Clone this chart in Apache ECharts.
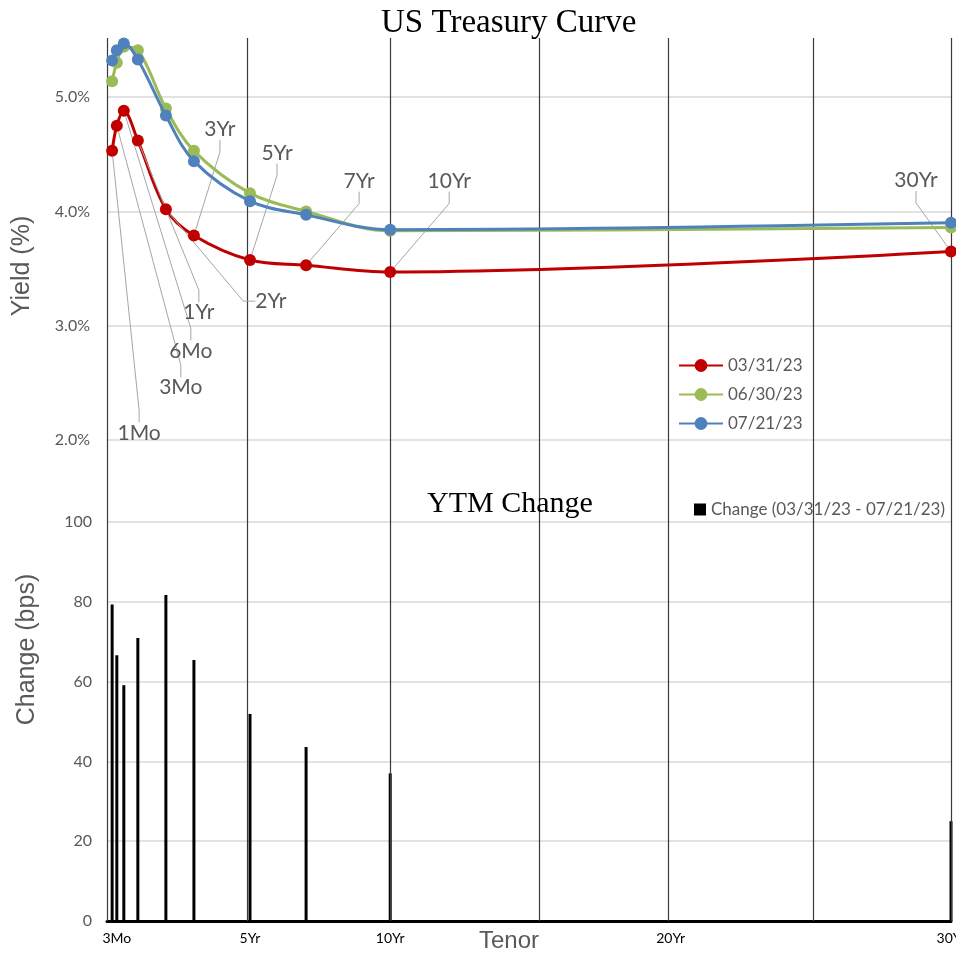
<!DOCTYPE html>
<html><head><meta charset="utf-8">
<script src="https://cdn.jsdelivr.net/npm/echarts@6/dist/echarts.min.js"></script>
<style>html,body{margin:0;padding:0;background:#fff}#c{width:956px;height:956px}</style>
</head><body><div id="c"></div>
<script>
// ---- data ----
const tenorNames = ['1Mo','3Mo','6Mo','1Yr','2Yr','3Yr','5Yr','7Yr','10Yr','30Yr'];
const tenorYears = [0.083, 0.25, 0.5, 1, 2, 3, 5, 7, 10, 30];
const seriesNames = ['03/31/23', '06/30/23', '07/21/23'];
const yield0331 = [4.53, 4.75, 4.88, 4.62, 4.02, 3.79, 3.575, 3.53, 3.47, 3.65];
const yield0630 = [5.14, 5.30, 5.44, 5.41, 4.90, 4.53, 4.16, 4.00, 3.83, 3.86];
const yield0721 = [5.32, 5.41, 5.47, 5.33, 4.84, 4.44, 4.09, 3.97, 3.84, 3.90];
const changeName = 'Change (03/31/23 - 07/21/23)';
const changeBps = [79.3, 66.6, 59.1, 70.9, 81.7, 65.4, 51.9, 43.6, 37.0, 25.0];
const bottomTickYears = [0.25, 5, 10, 20, 30];
const bottomTickLabels = ['3Mo', '5Yr', '10Yr', '20Yr', '30Yr'];
const verticalLineYears = [-0.1, 4.9, 10, 15.3, 19.9, 25.1, 30];

// ---- layout / style ----
const labelOffsets = [[27,282],[64,262],[67,240],[61,172],[105,92],[26,-106],[27,-107],[53,-84],[59,-91],[-35,-71]];
const colors = ['#C00000', '#9BBB59', '#4F81BD'];
const gray = '#595959';
const gridGray = '#d9d9d9';
const sans = 'Lato';

const pairs = (ys) => tenorYears.map((t, i) => [t, ys[i]]);

const chart = echarts.init(document.getElementById('c'), null, {renderer: 'canvas'});

function lineSeries(name, ys, idx, withLabels) {
  const s = {
    name: name, type: 'line', xAxisIndex: 0, yAxisIndex: 0,
    data: pairs(ys), smooth: 0.35, symbol: 'circle', symbolSize: 12,
    lineStyle: {color: colors[idx], width: 3},
    itemStyle: {color: colors[idx]},
    z: 5 + idx, clip: true
  };
  if (withLabels) {
    s.label = {
      show: true, position: 'inside',
      formatter: (p) => tenorNames[p.dataIndex],
      color: gray, fontFamily: sans, fontSize: 21
    };
    s.labelLine = {show: true, length2: 12, lineStyle: {color: '#a6a6a6', width: 1}};
    s.labelLayout = function (p) {
      const o = labelOffsets[p.dataIndex];
      return {
        x: p.rect.x + p.rect.width / 2 + o[0],
        y: p.rect.y + p.rect.height / 2 + o[1],
        align: 'center', verticalAlign: 'middle'
      };
    };
  }
  return s;
}

const option = {
  animation: false,
  backgroundColor: '#fff',
  title: [
    {text: 'US Treasury Curve', left: 381, top: 7, padding: 0,
     textStyle: {fontFamily: 'Liberation Serif', fontSize: 33, fontWeight: 'normal', color: '#000'}},
    {text: 'YTM Change', left: 427, top: 489, padding: 0,
     textStyle: {fontFamily: 'Liberation Serif', fontSize: 30, fontWeight: 'normal', color: '#000'}}
  ],
  legend: [
    {data: seriesNames, orient: 'vertical', left: 678, top: 357, padding: 0,
     itemWidth: 44, itemHeight: 16, itemGap: 12,
     textStyle: {color: gray, fontFamily: sans, fontSize: 17}},
    {data: [changeName], left: 694, top: 501, padding: 0,
     itemWidth: 12, itemHeight: 12, icon: 'rect', itemGap: 4,
     textStyle: {color: gray, fontFamily: sans, fontSize: 17}}
  ],
  grid: [
    {left: 107, right: 5, top: 40, height: 400, outerBoundsMode: 'none', containLabel: false},
    {left: 107, right: 5, top: 522, height: 399, outerBoundsMode: 'none', containLabel: false},
    {left: 107, right: 5, top: 38, height: 883, outerBoundsMode: 'none', containLabel: false}
  ],
  xAxis: [
    {type: 'value', gridIndex: 0, min: -0.1, max: 30, show: false},
    {type: 'value', gridIndex: 1, min: -0.1, max: 30,
     name: 'Tenor', nameLocation: 'middle', nameGap: 8, nameMoveOverlap: false,
     nameTextStyle: {fontFamily: 'Liberation Sans', fontSize: 24, color: gray, padding: [0, 40, 0, 0],
       verticalAlign: 'top'},
     axisLine: {show: true, lineStyle: {color: '#000', width: 3}},
     axisTick: {show: false},
     splitLine: {show: false},
     axisLabel: {customValues: bottomTickYears, margin: 10, color: '#000', fontFamily: sans, fontSize: 14,
       formatter: (v) => { const i = bottomTickYears.indexOf(v); return i >= 0 ? bottomTickLabels[i] : ''; }}},
    {type: 'value', gridIndex: 2, min: -0.1, max: 30, show: false}
  ],
  yAxis: [
    {type: 'value', gridIndex: 0, min: 2, max: 5.5, interval: 1,
     name: 'Yield (%)', nameLocation: 'middle', nameGap: 72,
     nameTextStyle: {fontFamily: 'Liberation Sans', fontSize: 25, color: gray, padding: [0, 52, 0, 0]},
     axisLine: {show: false}, axisTick: {show: false},
     axisLabel: {showMaxLabel: false, margin: 17, color: gray, fontFamily: sans, fontSize: 16,
       formatter: (v) => v.toFixed(1) + '%'},
     splitLine: {show: true, lineStyle: {color: [gridGray, gridGray, gridGray, gridGray, 'rgba(0,0,0,0)'], width: 1.5}}},
    {type: 'value', gridIndex: 1, min: 0, max: 100, interval: 20,
     name: 'Change (bps)', nameLocation: 'middle', nameGap: 67,
     nameTextStyle: {fontFamily: 'Liberation Sans', fontSize: 25, color: gray, padding: [0, 0, 0, 144]},
     axisLine: {show: false}, axisTick: {show: false},
     axisLabel: {margin: 15, color: gray, fontFamily: sans, fontSize: 16},
     splitLine: {show: true, lineStyle: {color: gridGray, width: 1.5}}},
    {type: 'value', gridIndex: 2, min: 0, max: 1, show: false}
  ],
  series: [
    {name: 'vgrid', type: 'line', xAxisIndex: 2, yAxisIndex: 2, data: [], z: 1, silent: true,
     markLine: {symbol: 'none', silent: true, label: {show: false},
       lineStyle: {color: '#3a3a3a', width: 1.2, type: 'solid'},
       data: verticalLineYears.map(v => ({xAxis: v}))}},
    lineSeries(seriesNames[0], yield0331, 0, true),
    lineSeries(seriesNames[1], yield0630, 1, false),
    lineSeries(seriesNames[2], yield0721, 2, false),
    {name: changeName, type: 'bar', xAxisIndex: 1, yAxisIndex: 1,
     data: pairs(changeBps), barWidth: 3, itemStyle: {color: '#000'}, z: 4}
  ]
};
chart.setOption(option);
</script>
</body></html>
